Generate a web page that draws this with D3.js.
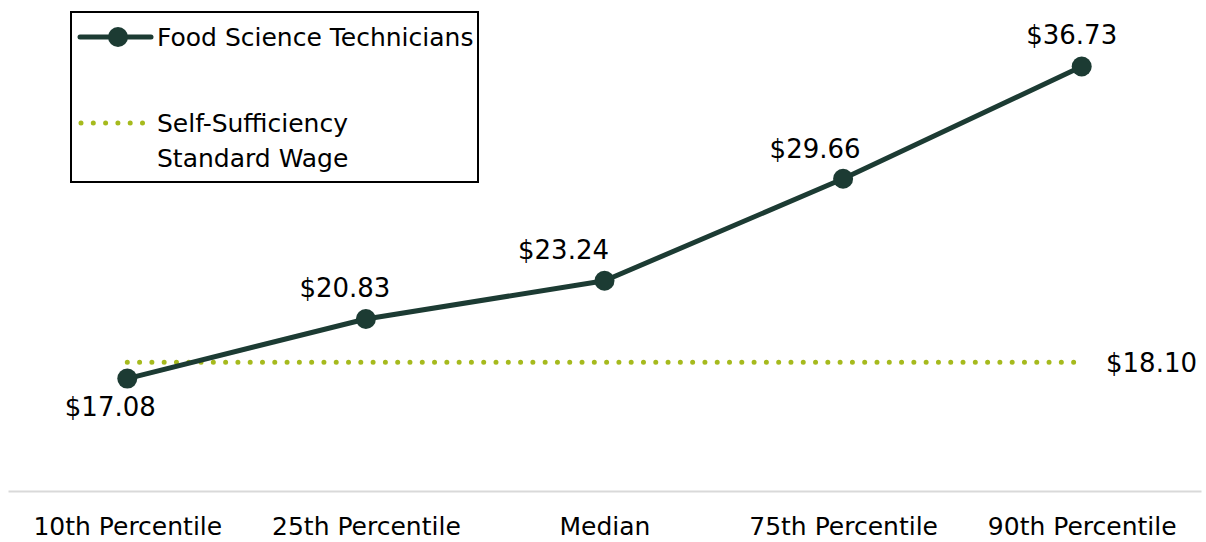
<!DOCTYPE html>
<html>
<head>
<meta charset="utf-8">
<script src="https://cdn.jsdelivr.net/npm/d3@7"></script>
<style>
  body { margin: 0; background: #fff; }
  text { font-family: "DejaVu Sans", sans-serif; fill: #000; }
</style>
</head>
<body>
<script>
const width = 1206;
const height = 542;

// data
const categories = ["10th Percentile", "25th Percentile", "Median", "75th Percentile", "90th Percentile"];
const wages = [17.08, 20.83, 23.24, 29.66, 36.73];
const selfSufficiency = 18.10;
const seriesName = "Food Science Technicians";
const refName = ["Self-Sufficiency", "Standard Wage"];

// label placement (pixel offsets from each point)
const labelDx = [-17, -21, -41, -28, -10];
const labelDy = [37, -22, -22, -21, -23];

const lineColor = "#1c3b33";
const dotColor = "#a6ba1d";

const svg = d3.select("body")
    .append("svg")
    .attr("width", width)
    .attr("height", height);

let xScale = d3.scalePoint()
    .domain(categories)
    .range([8, 1201])
    .padding(0.5);

let yScale = d3.scaleLinear()
    .domain([10, 40])
    .range([491, 14.6]);

// x axis
let xAxis = d3.axisBottom(xScale).tickSize(0).tickPadding(0);
let gx = svg.append("g")
    .attr("transform", `translate(0, ${yScale(10)})`)
    .call(xAxis);
gx.select(".domain").attr("stroke", "#d9d9d9").attr("stroke-width", 2);
gx.selectAll(".tick text")
    .attr("y", 44)
    .attr("dy", null)
    .style("font-size", "25px")
    .style("font-family", "'DejaVu Sans', sans-serif")
    .attr("fill", "#000");

// self-sufficiency reference line
const x0 = xScale(categories[0]);
const x1 = xScale(categories[categories.length - 1]) - 7;
svg.append("line")
    .attr("x1", x0).attr("x2", x1)
    .attr("y1", yScale(selfSufficiency)).attr("y2", yScale(selfSufficiency))
    .attr("stroke", dotColor)
    .attr("stroke-width", 5)
    .attr("stroke-linecap", "round")
    .attr("stroke-dasharray", "0 12.29");

svg.append("text")
    .attr("x", 1106)
    .attr("y", yScale(selfSufficiency) + 10)
    .style("font-size", "26px")
    .text("$" + selfSufficiency.toFixed(2));

// wage line
let line = d3.line()
    .x((d, i) => xScale(categories[i]))
    .y(d => yScale(d));

svg.append("path")
    .datum(wages)
    .attr("d", line)
    .attr("fill", "none")
    .attr("stroke", lineColor)
    .attr("stroke-width", 5)
    .attr("stroke-linejoin", "round");

svg.selectAll("circle.pt")
    .data(wages)
    .enter()
    .append("circle")
    .attr("class", "pt")
    .attr("cx", (d, i) => xScale(categories[i]))
    .attr("cy", d => yScale(d))
    .attr("r", 10)
    .attr("fill", lineColor);

svg.selectAll("text.val")
    .data(wages)
    .enter()
    .append("text")
    .attr("class", "val")
    .attr("x", (d, i) => xScale(categories[i]) + labelDx[i])
    .attr("y", (d, i) => yScale(d) + labelDy[i])
    .attr("text-anchor", "middle")
    .style("font-size", "26px")
    .text(d => "$" + d.toFixed(2));

// legend
const legend = svg.append("g");
legend.append("rect")
    .attr("x", 71).attr("y", 12)
    .attr("width", 407).attr("height", 170)
    .attr("fill", "none")
    .attr("stroke", "#000")
    .attr("stroke-width", 2);

legend.append("line")
    .attr("x1", 80).attr("x2", 151)
    .attr("y1", 37).attr("y2", 37)
    .attr("stroke", lineColor)
    .attr("stroke-width", 5)
    .attr("stroke-linecap", "round");
legend.append("circle")
    .attr("cx", 118).attr("cy", 37).attr("r", 10)
    .attr("fill", lineColor);
legend.append("text")
    .attr("x", 157).attr("y", 46)
    .style("font-size", "25px")
    .text(seriesName);

legend.append("line")
    .attr("x1", 81).attr("x2", 145)
    .attr("y1", 123).attr("y2", 123)
    .attr("stroke", dotColor)
    .attr("stroke-width", 5)
    .attr("stroke-linecap", "round")
    .attr("stroke-dasharray", "0 12.3");
legend.selectAll("text.ref")
    .data(refName)
    .enter()
    .append("text")
    .attr("class", "ref")
    .attr("x", 157)
    .attr("y", (d, i) => 132 + i * 35)
    .style("font-size", "25px")
    .text(d => d);
</script>
</body>
</html>
